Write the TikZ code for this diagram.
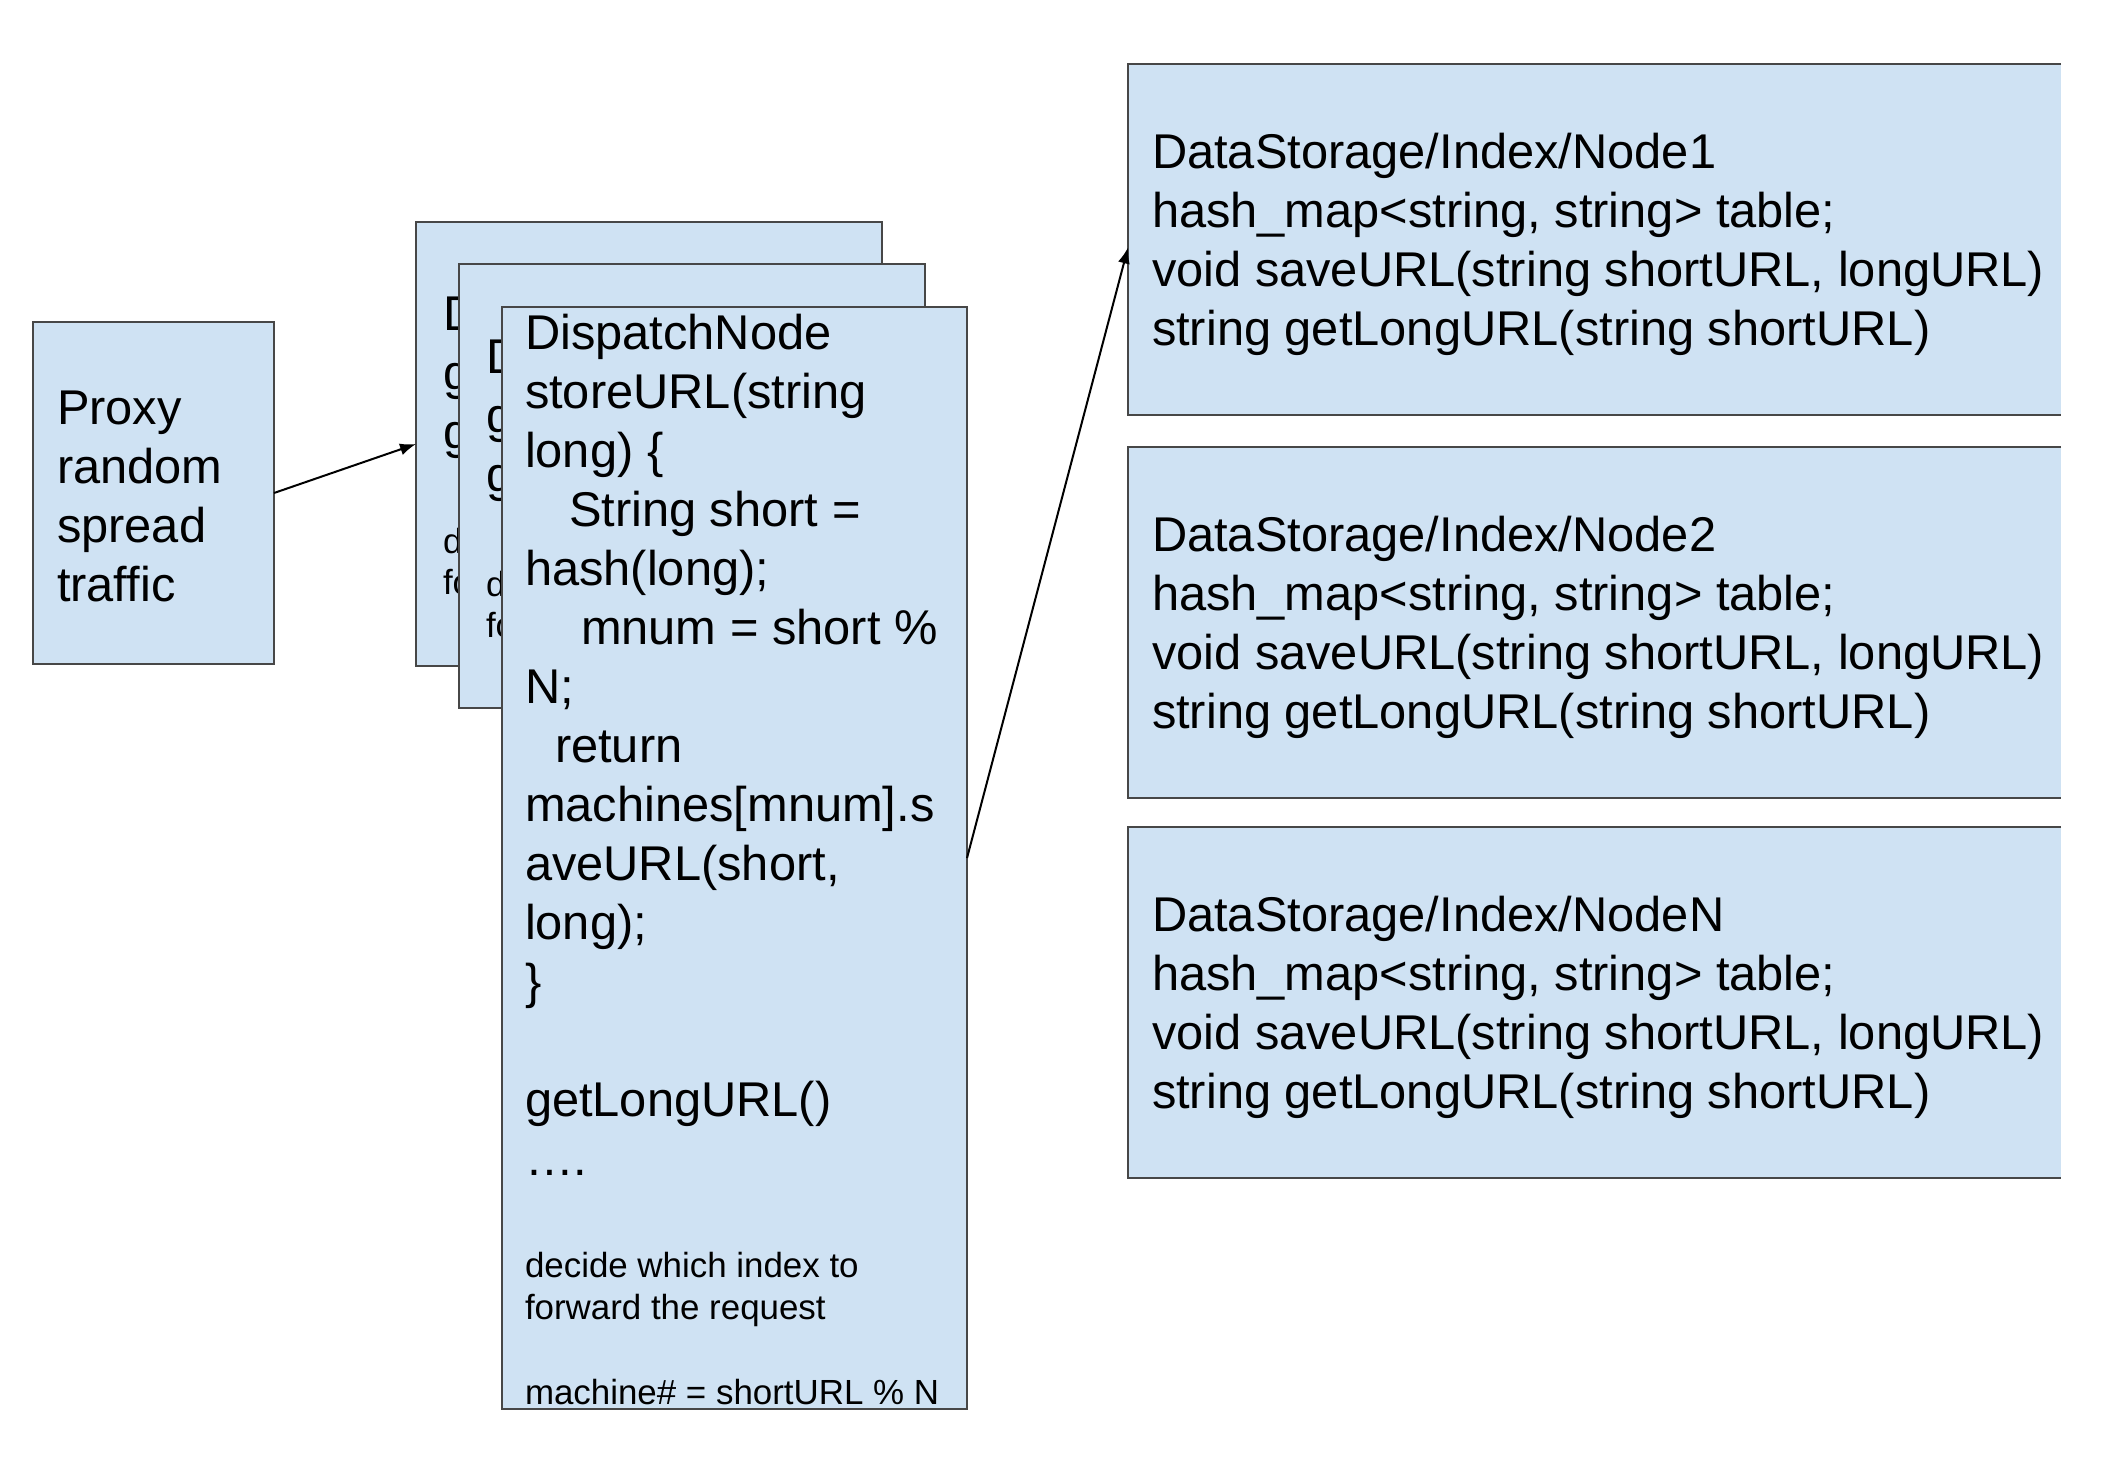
\documentclass[tikz,border=0pt]{standalone}
\usepackage{fontspec}
\setmainfont{Liberation Sans}
\usetikzlibrary{arrows.meta}
\definecolor{boxfill}{HTML}{CFE2F3}
\definecolor{boxline}{HTML}{474747}
\newcommand{\mainfnt}{\fontsize{24.4pt}{29.5pt}\selectfont}
\newcommand{\smallfnt}{\fontsize{17.45pt}{21.25pt}\selectfont}
\newcommand{\codelines}[1]{\vtop{\baselineskip=29.5pt\lineskiplimit=-\maxdimen\lineskip=0pt\relax #1}}
\newcommand{\bskip}[1]{\baselineskip=#1\relax}
\begin{document}
\begin{tikzpicture}[x=0.5pt,y=-0.5pt,
  box/.style={draw=boxline, line width=1.3pt, fill=boxfill, anchor=north west, inner sep=0pt, outer sep=0pt},
  fillbox/.style={fill=boxfill, anchor=north west, inner sep=0pt, outer sep=0pt},
  edgeline/.style={draw=boxline, line width=1.3pt},
  txt/.style={anchor=base west, inner sep=0pt, outer sep=0pt, font=\mainfnt, text=black},
  arrow/.style={draw=black, line width=1pt, -{Latex[length=8pt,width=6pt]}}]
\useasboundingbox (0,0) rectangle (2112,1462);

% Proxy
\node[box, minimum width=120.5pt, minimum height=171pt] (proxy) at (33,322) {};
\node[txt] (proxytext) at (57,424) {\codelines{\hbox{Proxy}\hbox{random}\hbox{spread}\hbox{traffic}}};

% back dispatch node 1 (only its left edge shows)
\node[box, minimum width=233pt, minimum height=222pt] (back1) at (416,222) {};
\node[txt] (back1text) at (443,330) {\codelines{\hbox{D}\hbox{g}\hbox{g}\bskip{52.5pt}\hbox{\smallfnt d}\bskip{20.5pt}\hbox{\smallfnt fo}}};

% back dispatch node 2 (only its left edge shows)
\node[box, minimum width=233pt, minimum height=222pt] (back2) at (459,264) {};
\node[txt] (back2text) at (486,373) {\codelines{\hbox{D}\hbox{g}\hbox{g}\bskip{52.5pt}\hbox{\smallfnt d}\bskip{20.5pt}\hbox{\smallfnt fo}}};

% front dispatch node
\node[box, minimum width=232.5pt, minimum height=551pt] (front) at (502,307) {};
\node[txt] (fronttext) at (525,349) {\codelines{%
\hbox{DispatchNode}
\hbox{storeURL(string}
\hbox{long) \{}
\hbox{\hskip22pt String short =}
\hbox{hash(long);}
\hbox{\hskip28pt mnum = short \%}
\hbox{N;}
\hbox{\hskip15pt return}
\hbox{machines[mnum].s}
\hbox{aveURL(short,}
\hbox{long);}
\hbox{\}}
\hbox{}
\hbox{getLongURL()}
\hbox{….}
\bskip{51pt}\hbox{\smallfnt decide which index to}
\bskip{21.25pt}\hbox{\smallfnt forward the request}
\bskip{42.5pt}\hbox{\smallfnt machine\# = shortURL \% N}}};

% data storage nodes
\node[fillbox, minimum width=466.5pt, minimum height=175.5pt] (d1) at (1128,64) {};
\node[fillbox, minimum width=466.5pt, minimum height=175.5pt] (d2) at (1128,447) {};
\node[fillbox, minimum width=466.5pt, minimum height=175.5pt] (d3) at (1128,827) {};
\draw[edgeline] (d1.north east) -- (d1.north west) -- (d1.south west) -- (d1.south east);
\draw[edgeline] (d2.north east) -- (d2.north west) -- (d2.south west) -- (d2.south east);
\draw[edgeline] (d3.north east) -- (d3.north west) -- (d3.south west) -- (d3.south east);
\node[txt] (d1text) at (1152,168) {\codelines{\hbox{DataStorage/Index/Node1}\hbox{hash\_map<string, string> table;}\hbox{void saveURL(string shortURL, longURL)}\hbox{string getLongURL(string shortURL)}}};
\node[txt] (d2text) at (1152,551) {\codelines{\hbox{DataStorage/Index/Node2}\hbox{hash\_map<string, string> table;}\hbox{void saveURL(string shortURL, longURL)}\hbox{string getLongURL(string shortURL)}}};
\node[txt] (d3text) at (1152,931) {\codelines{\hbox{DataStorage/Index/NodeN}\hbox{hash\_map<string, string> table;}\hbox{void saveURL(string shortURL, longURL)}\hbox{string getLongURL(string shortURL)}}};

% connectors
\draw[arrow] (proxy.east) -- (back1.west);
\draw[arrow] (front.east) -- ([yshift=-4pt]d1.west);
\end{tikzpicture}
\end{document}
